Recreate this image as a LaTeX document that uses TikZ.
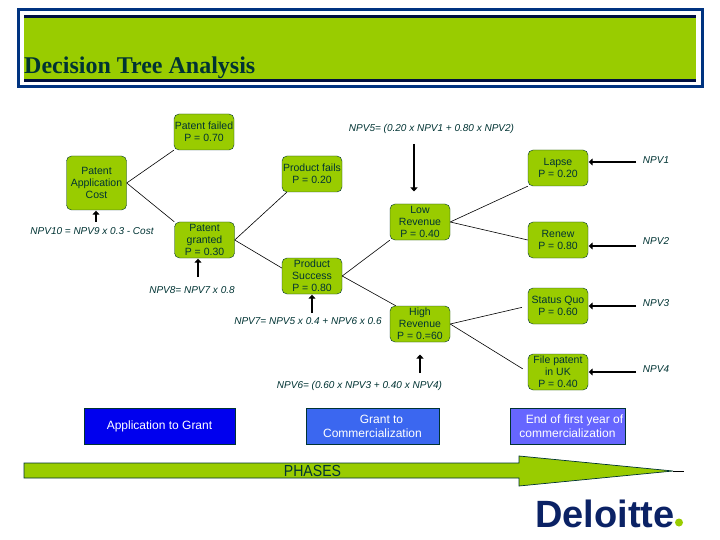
\documentclass[tikz,border=0pt]{standalone}
\usepackage{fontspec}
\setmainfont{Liberation Sans}
\newfontfamily\titlefont{Liberation Serif}
\usetikzlibrary{arrows.meta}
\definecolor{leaf}{HTML}{99CC00}
\definecolor{ink}{HTML}{003333}
\definecolor{navy}{HTML}{003380}
\definecolor{stripe}{HTML}{000F40}
\tikzset{
  box/.style={draw=ink, fill=leaf, text=ink, rounded corners=5pt, minimum width=60pt,
    align=center, inner sep=0pt, font=\fontsize{10.5}{12}\selectfont},
  npv/.style={text=ink, inner sep=0pt, font=\fontsize{10}{11}\selectfont\itshape},
  phase/.style={draw=ink, text=white, inner sep=0pt, align=center, font=\fontsize{12}{14}\selectfont},
  pointer/.style={line width=2.2pt, -{Triangle[length=4pt,width=7pt]}, shorten >=0.5pt},
  branch/.style={line width=0.6pt, black}
}
\begin{document}
\begin{tikzpicture}[x=1pt, y=-1pt]
   \useasboundingbox (0,0) rectangle (720,540);

   % header band
   \draw [navy, line width=3pt, fill=white] (18.5,9.5) rectangle (702,87);
   \fill [leaf] (24,16) rectangle (696,81);
   \fill [stripe] (24,15) rectangle (696,18);
   \fill [stripe] (24,79) rectangle (696,82);
   \node [anchor=base west, inner sep=0pt, text=ink] (vTitle) at (24,73.5)
      {\titlefont\bfseries\fontsize{24}{26}\selectfont Decision Tree Analysis};

   % tree boxes
   \foreach \t/\x/\y/\h/\txt in {
       Failed/204/132/36/{Patent failed\\P = 0.70},
       App/96.5/183/54/{Patent\\Application\\Cost},
       Granted/204.5/240/36/{Patent\\granted\\P = 0.30},
       Fails/312/174/36/{Product fails\\P = 0.20},
       Success/312/276/36/{Product\\Success\\P = 0.80},
       Low/420/222/36/{Low\\Revenue\\P = 0.40},
       High/420/324/36/{High\\Revenue\\P = 0.=60},
       Lapse/558/168/36/{Lapse\\P = 0.20},
       Renew/558/240/36/{Renew\\P = 0.80},
       Quo/558/306/36/{Status Quo\\P = 0.60},
       Uk/558/372/36/{File patent\\in UK\\P = 0.40}}
     \node [box, minimum height=\h pt] (v\t) at (\x,\y) {\txt};

   % branches
   \foreach \i/\j/\a in {App/Failed/south west, App/Granted/north west,
       Success/Low/south west, Low/Lapse/south west, Low/Renew/west}
     \draw [branch] (v\i.east) -- (v\j.\a);
   \draw [branch] (vGranted.east) -- ([xshift=5pt]vFails.south west);
   \draw [branch] (vGranted.east) -- ([yshift=8pt]vSuccess.west);
   \draw [branch] (vSuccess.east) -- ([xshift=6pt]vHigh.north west);
   \foreach \i/\j in {High/Quo, High/Uk}
     \draw [branch, shorten >=6pt] (v\i.east) -- (v\j.west);

   % npv labels
   \foreach \t/\x/\y/\txt in {
       Ten/92/231/{NPV10 = NPV9 x 0.3 - Cost},
       Eight/192/290/{NPV8= NPV7 x 0.8},
       Seven/308/321/{NPV7= NPV5 x 0.4 + NPV6 x 0.6},
       Five/431.5/129/{NPV5= (0.20 x NPV1 + 0.80 x NPV2)},
       Six/359.5/386/{NPV6= (0.60 x NPV3 + 0.40 x NPV4)},
       One/656/160/NPV1, Two/656/241/NPV2, Three/656/303/NPV3, Four/656/369/NPV4}
     \node [npv] (n\t) at (\x,\y) {\txt};

   % pointers
   \coordinate (cTen) at (96,222);
   \coordinate (cEight) at (198,277);
   \coordinate (cSeven) at (312,313);
   \coordinate (cFive) at (414,144);
   \coordinate (cFiveEnd) at (414,192);
   \coordinate (cSix) at (420,373);
   \coordinate (cSixEnd) at (420,354);
   \coordinate (cOne) at (636,162);
   \coordinate (cTwo) at (636,246);
   \coordinate (cThree) at (636,306);
   \coordinate (cFour) at (636,372);
   \draw [pointer] (cTen) -- (vApp.south -| cTen);
   \draw [pointer] (cEight) -- (vGranted.south -| cEight);
   \draw [pointer] (cSeven) -- (vSuccess.south -| cSeven);
   \draw [pointer] (cFive) -- (cFiveEnd);
   \draw [pointer] (cSix) -- (cSixEnd);
   \draw [pointer] (cOne) -- (vLapse.east |- cOne);
   \draw [pointer] (cTwo) -- (vRenew.east |- cTwo);
   \draw [pointer] (cThree) -- (vQuo.east |- cThree);
   \draw [pointer] (cFour) -- (vUk.east |- cFour);

   % phases
   \node [phase, fill={rgb,255:red,0;green,0;blue,238}, minimum width=151pt, minimum height=36pt] (pGrant) at (159.5,426) {Application to Grant};
   \node [phase, fill={rgb,255:red,59;green,103;blue,240}, minimum width=133pt, minimum height=36pt] (pComm) at (372.5,426) {\hspace*{18pt}Grant to\\Commercialization};
   \node [phase, fill={rgb,255:red,102;green,102;blue,255}, minimum width=115pt, minimum height=36pt] (pYear) at (567.5,426) {\hspace*{14pt}End of first year of\\commercialization};

   \draw [ink, fill=leaf, line width=0.7pt] (24,463) -- (519,463) -- (519,456) -- (673,471) -- (519,486) -- (519,478) -- (24,478) -- cycle;
   \coordinate (cTip) at (673,471);
   \coordinate (cTail) at (684,471);
   \draw [black, line width=1pt] (cTip) -- (cTail);
   \node [text=ink, inner sep=0pt, xscale=0.88] (vPhases) at (312.5,471) {\fontsize{16}{18}\selectfont PHASES};

   % logo
   \node [anchor=base west, inner sep=0pt, text={rgb,255:red,11;green,34;blue,101}] (vLogo) at (535,527)
      {\bfseries\fontsize{38}{40}\selectfont Deloitte};
   \fill [leaf] (679,522.5) circle (4pt);
\end{tikzpicture}
\end{document}
